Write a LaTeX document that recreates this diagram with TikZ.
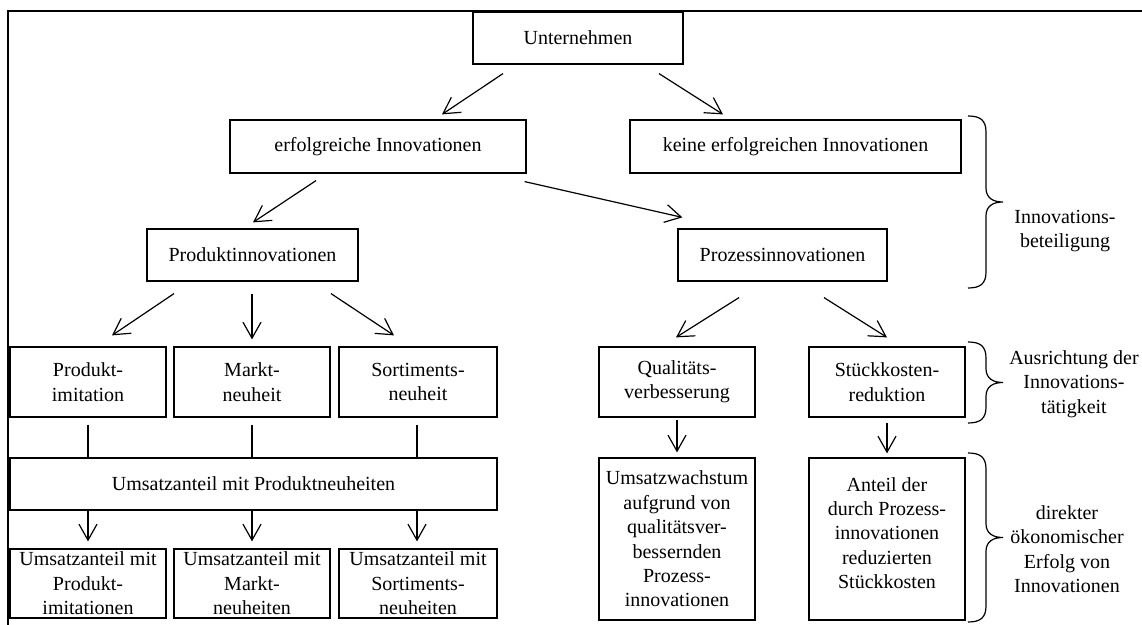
\documentclass[tikz,border=0pt]{standalone}
\usepackage{fontspec}
\setmainfont{Liberation Serif}
\usetikzlibrary{arrows.meta,calc}
\tikzset{
  box/.style={draw, line width=0.6pt, rectangle, inner sep=0pt, align=center,
    font=\fontsize{10}{12.2}\selectfont},
  lbl/.style={inner sep=0pt, align=center, font=\fontsize{10}{12.2}\selectfont},
  arr/.style={line width=0.6pt, -{Straight Barb[length=8pt,width=9pt,line width=0.6pt]}},
  ln/.style={line width=0.6pt},
  brc/.style={line width=0.6pt},
  frame/.style={line width=1.1pt}
}
\newcommand\bx[6]{% name, cx, cy, w, h, text
  \node[box, minimum width=#4*0.5pt, minimum height=#5*0.5pt] (#1) at (#2,#3) {#6};}
\newcommand\mybrace[2]{%
  \pgfmathsetmacro\bm{(#1+#2)/2}%
  \draw[brc] (968,#1) .. controls (980,#1) and (986,#1+4) .. (986,#1+16)
    -- (986,\bm-14) .. controls (986,\bm-4) and (993,\bm) .. (1003,\bm)
    .. controls (993,\bm) and (986,\bm+4) .. (986,\bm+14)
    -- (986,#2-16) .. controls (986,#2-4) and (980,#2) .. (968,#2);}
\begin{document}
\begin{tikzpicture}[x=0.5pt,y=-0.5pt]
\useasboundingbox (0,0) rectangle (1142,625);
% frame (top and left edges)
\draw[frame] (1142,11) -- (8,11) -- (8,625);

\bx{U}{578}{38}{210}{52}{Unternehmen}
\bx{E}{378}{146.5}{296}{53}{erfolgreiche Innovationen}
\bx{K}{795.5}{146.5}{331}{53}{keine erfolgreichen Innovationen}
\bx{PI}{252.5}{255}{211}{52}{Produktinnovationen}
\bx{PZ}{782.5}{255}{209}{52}{Prozessinnovationen}
\bx{A}{88}{382}{156}{70}{Produkt-\\imitation}
\bx{B}{252}{382}{156}{70}{Markt-\\neuheit}
\bx{C}{418}{382}{158}{70}{Sortiments-\\neuheit}
\bx{Q}{677}{382}{156}{70}{Qualitäts-\\verbesserung}
\bx{S}{887}{382}{156}{70}{Stückkosten-\\reduktion}
\bx{UP}{253.5}{484}{487}{52}{Umsatzanteil mit Produktneuheiten}
\bx{D}{88}{583.5}{156}{69}{Umsatzanteil mit\\Produkt-\\imitationen}
\bx{F}{252}{583.5}{156}{69}{Umsatzanteil mit\\Markt-\\neuheiten}
\bx{G}{418}{583.5}{158}{69}{Umsatzanteil mit\\Sortiments-\\neuheiten}
\bx{UW}{677}{539}{156}{162}{Umsatzwachstum\\aufgrund von\\qualitätsver-\\bessernden\\Prozess-\\innovationen}
\node[box, minimum width=78pt, minimum height=81pt] (AN) at (887,539) {};
\node[lbl] (ANt) at (887,533) {Anteil der\\durch Prozess-\\innovationen\\reduzierten\\Stückkosten};

% arrows
\draw[arr] ([shift={(-75,9)}]U.south) -- ([shift={(64,-5)}]E.north);
\draw[arr] ([shift={(81,9)}]U.south) -- ([shift={(-72.5,-5)}]K.north);
\draw[arr] ([shift={(-62,7)}]E.south) -- ([shift={(0.5,-6)}]PI.north);
\draw[arr] ([shift={(-2,8)}]E.south east) -- ([shift={(5,-11)}]PZ.north west);
\draw[arr] ([shift={(-78.5,12)}]PI.south) -- ([shift={(24,-11)}]A.north);
\draw[arr] ([shift={(0,12)}]B.north |- PI.south) -- ([shift={(0,-7)}]B.north);
\draw[arr] ([shift={(78.5,12)}]PI.south) -- ([shift={(-24,-11)}]C.north);
\draw[arr] ([shift={(-43.5,16)}]PZ.south) -- ([shift={(-1,-9)}]Q.north);
\draw[arr] ([shift={(41.5,16)}]PZ.south) -- ([shift={(0,-9)}]S.north);
\draw[arr] ([shift={(0,2)}]Q.south) -- ([shift={(0,-5)}]UW.north);
\draw[arr] ([shift={(0,5)}]S.south) -- ([shift={(0,-4)}]AN.north);

% lines into Umsatzanteil box
\draw[ln] ([shift={(0,7)}]A.south) -- (A.south |- UP.north);
\draw[ln] ([shift={(0,7)}]B.south) -- (B.south |- UP.north);
\draw[ln] ([shift={(-1,7)}]C.south) -- ([xshift=-0.5pt]C.south |- UP.north);
\draw[arr] (D.north |- UP.south) -- ([shift={(0,-7)}]D.north);
\draw[arr] (F.north |- UP.south) -- ([shift={(0,-7)}]F.north);
\draw[arr] ([xshift=-0.5pt]G.north |- UP.south) -- ([shift={(-1,-7)}]G.north);

% braces and labels
\mybrace{116}{288}
\mybrace{342}{423}
\mybrace{453}{622}
\node[lbl] (L1) at (1065,231) {Innovations-\\beteiligung};
\node[lbl] (L2) at (1074,384) {Ausrichtung der\\Innovations-\\tätigkeit};
\node[lbl] (L3) at (1067,549) {direkter\\ökonomischer\\Erfolg von\\Innovationen};
\end{tikzpicture}
\end{document}
